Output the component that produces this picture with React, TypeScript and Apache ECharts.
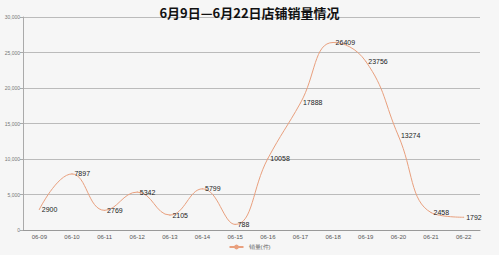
import React, { useEffect, useRef } from "react";
import * as echarts from "echarts";

const categories = ["06-09", "06-10", "06-11", "06-12", "06-13", "06-14", "06-15", "06-16", "06-17", "06-18", "06-19", "06-20", "06-21", "06-22"];
const sales = [2900, 7897, 2769, 5342, 2105, 5799, 788, 10058, 17888, 26409, 23756, 13274, 2458, 1792];
const seriesName = "销量(件)";
const titleText = "6月9日—6月22日店铺销量情况";

export default function App() {
  const ref = useRef<HTMLDivElement>(null);
  useEffect(() => {
    const chart = echarts.init(ref.current!, null, { renderer: "svg" });
    chart.setOption({
      animation: false,
      backgroundColor: "#f6f6f6",
      title: {
        text: titleText,
        left: "center",
        top: 1,
        textStyle: { fontSize: 13, fontWeight: "bold", color: "#111", fontFamily: "Noto Sans CJK SC" },
      },
      legend: {
        data: [seriesName],
        bottom: 0,
        left: "center",
        itemWidth: 14,
        itemHeight: 6,
        textStyle: { fontSize: 6, color: "#666" },
      },
      grid: { left: 23, right: 19, top: 17, bottom: 25 },
      xAxis: {
        type: "category",
        data: categories,
        boundaryGap: true,
        axisLine: { lineStyle: { color: "#999" } },
        axisTick: { lineStyle: { color: "#999" }, length: 3 },
        axisLabel: { fontSize: 6, color: "#555", margin: 4 },
      },
      yAxis: {
        type: "value",
        min: 0,
        max: 30000,
        interval: 5000,
        axisLine: { show: true, lineStyle: { color: "#aaa" } },
        axisTick: { show: true, length: 3, lineStyle: { color: "#aaa" } },
        axisLabel: { fontSize: 5, color: "#777", margin: 3 },
        splitLine: { lineStyle: { color: "#bbb", width: 1 } },
      },
      series: [
        {
          name: seriesName,
          type: "line",
          data: sales,
          smooth: 0.45,
          symbol: "circle",
          symbolSize: 1,
          showSymbol: true,
          lineStyle: { color: "#e9a07e", width: 1 },
          itemStyle: { color: "#e9a07e" },
          label: { show: true, position: "right", fontSize: 7, color: "#222", distance: 2 },
        },
      ],
    });
    return () => chart.dispose();
  }, []);
  return <div ref={ref} style={{ width: 499, height: 255, position: "absolute", left: 0, top: 0 }} />;
}
